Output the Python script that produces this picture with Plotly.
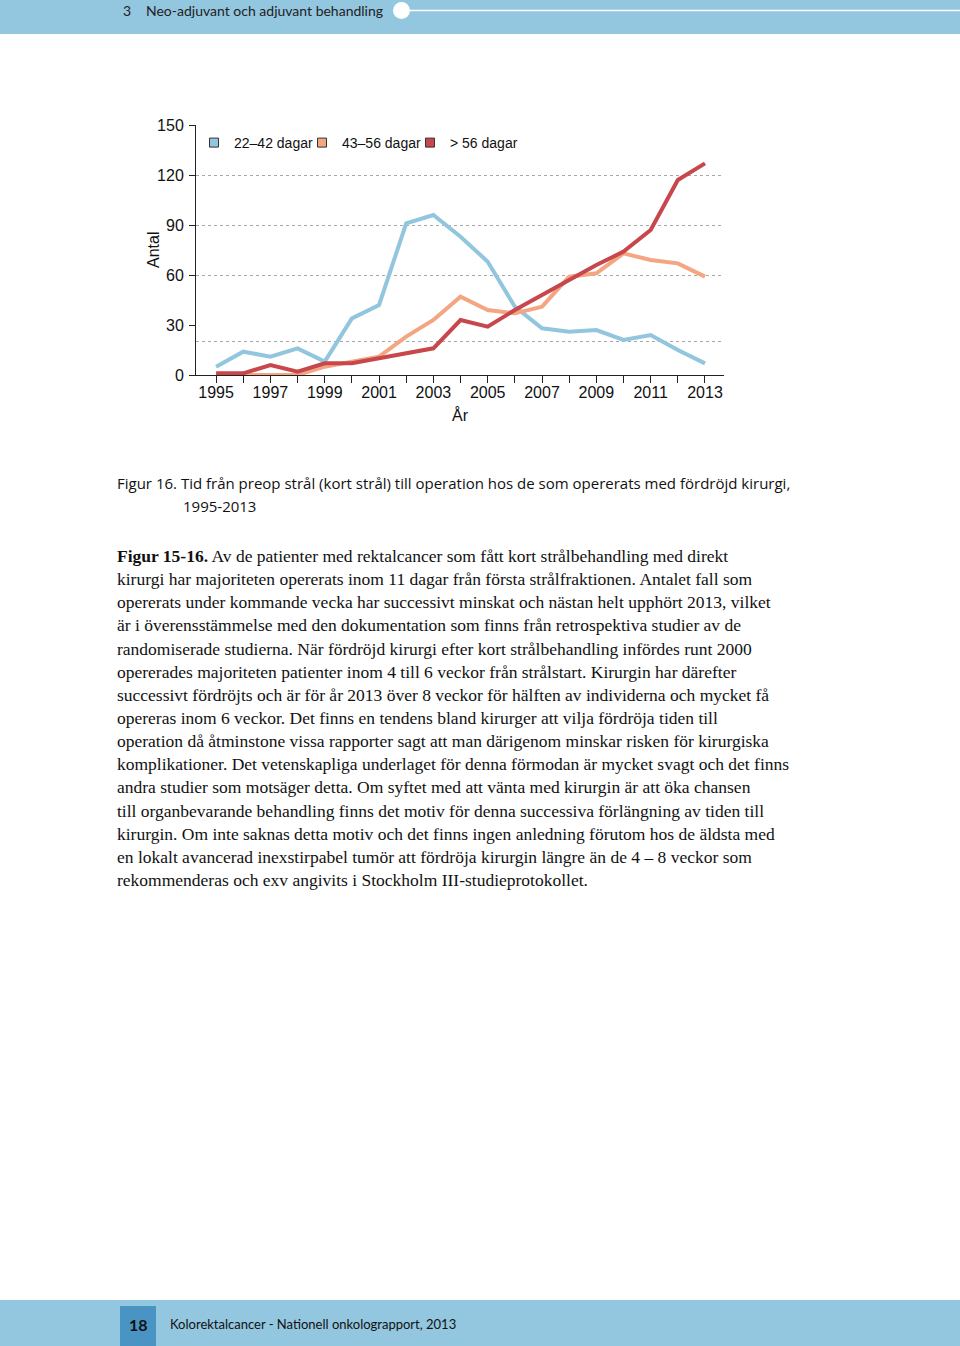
import plotly.graph_objects as go

W, H = 960, 1346

years = list(range(1995, 2014))
series_names = ["22–42 dagar", "43–56 dagar", "> 56 dagar"]
v_22_42 = [5, 14, 11, 16, 8, 34, 42, 91, 96, 83, 68, 41, 28, 26, 27, 21, 24, 15, 7]
v_43_56 = [0, 0, 0, 0, 5, 8, 11, 23, 33, 47, 39, 37, 41, 59, 61, 73, 69, 67, 59]
v_over56 = [1, 1, 6, 2, 7, 7, 10, 13, 16, 33, 29, 39, 48, 57, 66, 74, 87, 117, 127]
colors = ["#92c5de", "#f4a582", "#c7474c"]

y_ticks = [0, 30, 60, 90, 120, 150]
grid_vals = [20, 60, 90, 120]
x_tick_labels = [str(y) if (y - 1995) % 2 == 0 else "" for y in years]

header_num = "3"
header_title = "Neo-adjuvant och adjuvant behandling"
caption_1 = "Figur 16. Tid från preop strål (kort strål) till operation hos de som opererats med fördröjd kirurgi,"
caption_2 = "1995-2013"
body_lines = [
    "<b>Figur 15-16.</b> Av de patienter med rektalcancer som fått kort strålbehandling med direkt",
    "kirurgi har majoriteten opererats inom 11 dagar från första strålfraktionen. Antalet fall som",
    "opererats under kommande vecka har successivt minskat och nästan helt upphört 2013, vilket",
    "är i överensstämmelse med den dokumentation som finns från retrospektiva studier av de",
    "randomiserade studierna. När fördröjd kirurgi efter kort strålbehandling infördes runt 2000",
    "opererades majoriteten patienter inom 4 till 6 veckor från strålstart. Kirurgin har därefter",
    "successivt fördröjts och är för år 2013 över 8 veckor för hälften av individerna och mycket få",
    "opereras inom 6 veckor. Det finns en tendens bland kirurger att vilja fördröja tiden till",
    "operation då åtminstone vissa rapporter sagt att man därigenom minskar risken för kirurgiska",
    "komplikationer. Det vetenskapliga underlaget för denna förmodan är mycket svagt och det finns",
    "andra studier som motsäger detta. Om syftet med att vänta med kirurgin är att öka chansen",
    "till organbevarande behandling finns det motiv för denna successiva förlängning av tiden till",
    "kirurgin. Om inte saknas detta motiv och det finns ingen anledning förutom hos de äldsta med",
    "en lokalt avancerad inexstirpabel tumör att fördröja kirurgin längre än de 4 – 8 veckor som",
    "rekommenderas och exv angivits i Stockholm III-studieprotokollet.",
]
page_no = "18"
footer_text = "Kolorektalcancer - Nationell onkolograpport, 2013"


def px(x):
    return x / W


def py(y):
    return 1 - y / H


CHART_FONT = "Liberation Sans"
SANS = "Lato"
CAP_FONT = "Open Sans"
SERIF = "Liberation Serif"

fig = go.Figure()
for name, vals, c in zip(series_names, [v_22_42, v_43_56, v_over56], colors):
    fig.add_trace(go.Scatter(x=years, y=vals, mode="lines", name=name,
                             line=dict(color=c, width=4), showlegend=False,
                             hoverinfo="x+y+name"))
for name, c in zip(series_names, colors):
    fig.add_trace(go.Scatter(x=[None], y=[None], mode="markers", name=name, yaxis="y2",
                             marker=dict(symbol="square", size=9, color=c,
                                         line=dict(color="#333333", width=1))))

shapes = [
    dict(type="rect", xref="paper", yref="paper", x0=0, x1=1, y0=py(34), y1=1,
         fillcolor="#93c6df", line=dict(width=0), layer="below"),
    dict(type="line", xref="paper", yref="paper", x0=px(405), x1=1, y0=py(10.5), y1=py(10.5),
         line=dict(color="white", width=1.6)),
    dict(type="circle", xref="paper", yref="paper", x0=px(393), x1=px(410), y0=py(19), y1=py(2),
         fillcolor="white", line=dict(width=0)),
    dict(type="rect", xref="paper", yref="paper", x0=0, x1=1, y0=0, y1=py(1300),
         fillcolor="#93c6df", line=dict(width=0), layer="below"),
    dict(type="rect", xref="paper", yref="paper", x0=px(120), x1=px(156), y0=0, y1=py(1306),
         fillcolor="#4a94c3", line=dict(width=0), layer="below"),
]

ann = []
ann.append(dict(text=header_num, x=px(121), y=py(11), xref="paper", yref="paper", xanchor="left",
                yanchor="middle", showarrow=False, font=dict(family=SANS, size=14, color="#222")))
ann.append(dict(text=header_title, x=px(144), y=py(11), xref="paper", yref="paper", xanchor="left",
                yanchor="middle", showarrow=False, font=dict(family=SANS, size=14, color="#222")))
ann.append(dict(text="Antal", x=px(153), y=py(250), xref="paper", yref="paper", textangle=-90,
                xanchor="center", yanchor="middle", showarrow=False,
                font=dict(family=CHART_FONT, size=16, color="#111")))
ann.append(dict(text="År", x=px(460), y=py(415), xref="paper", yref="paper",
                xanchor="center", yanchor="middle", showarrow=False,
                font=dict(family=CHART_FONT, size=16, color="#111")))
ann.append(dict(text=caption_1, x=px(115), y=py(483), xref="paper", yref="paper", xanchor="left",
                yanchor="middle", showarrow=False, font=dict(family=CAP_FONT, size=15, color="#111")))
ann.append(dict(text=caption_2, x=px(181), y=py(506), xref="paper", yref="paper", xanchor="left",
                yanchor="middle", showarrow=False, font=dict(family=CAP_FONT, size=15, color="#111")))
for i, line in enumerate(body_lines):
    ann.append(dict(text=line, x=px(115), y=py(556 + i * 23.14), xref="paper", yref="paper",
                    xanchor="left", yanchor="middle", showarrow=False,
                    font=dict(family=SERIF, size=17.5, color="#111")))
ann.append(dict(text="<b>" + page_no + "</b>", x=px(138), y=py(1324), xref="paper", yref="paper",
                xanchor="center", yanchor="middle", showarrow=False,
                font=dict(family=SANS, size=16, color="#111")))
ann.append(dict(text=footer_text, x=px(168), y=py(1324), xref="paper", yref="paper", xanchor="left",
                yanchor="middle", showarrow=False, font=dict(family=SANS, size=13, color="#111")))

fig.update_layout(
    width=W, height=H, autosize=False,
    margin=dict(l=0, r=0, t=0, b=0, pad=0, autoexpand=False),
    paper_bgcolor="white", plot_bgcolor="white",
    shapes=shapes, annotations=ann,
    xaxis=dict(domain=[px(196), px(724)], range=[1994.26, 2013.7], tickvals=years,
               ticktext=x_tick_labels, ticks="outside", ticklen=7, tickcolor="#222",
               showline=True, linecolor="#222", linewidth=1, showgrid=False, zeroline=False,
               anchor="y", automargin=False, ticklabelstandoff=-4,
               tickfont=dict(family=CHART_FONT, size=16, color="#111")),
    yaxis=dict(domain=[py(375), py(125)], range=[0, 150], tickvals=y_ticks, ticks="outside",
               ticklen=6, tickcolor="#222", showline=True, linecolor="#222", linewidth=1,
               showgrid=False, zeroline=False, anchor="x", automargin=False, ticklabelstandoff=2,
               tickfont=dict(family=CHART_FONT, size=16, color="#111")),
    yaxis2=dict(domain=[py(375), py(125)], range=[0, 150], overlaying="y", anchor="x",
                tickvals=grid_vals, showticklabels=False, ticks="", showgrid=True,
                automargin=False,
                gridcolor="#a8a8a8", griddash="dot", gridwidth=1, zeroline=False, showline=False),
    legend=dict(orientation="h", x=px(194), y=py(143), xanchor="left", yanchor="middle",
                entrywidth=63, entrywidthmode="pixels", itemwidth=30,
                font=dict(family=CHART_FONT, size=14, color="#111"), bgcolor="rgba(0,0,0,0)"),
)

fig.write_html(
    "out.html",
    config={"displayModeBar": False},
    post_script=(
        "document.body.style.margin='0';document.body.style.padding='0';"
        "document.body.style.overflow='hidden';"
        "document.documentElement.style.overflow='hidden';"
    ),
)
